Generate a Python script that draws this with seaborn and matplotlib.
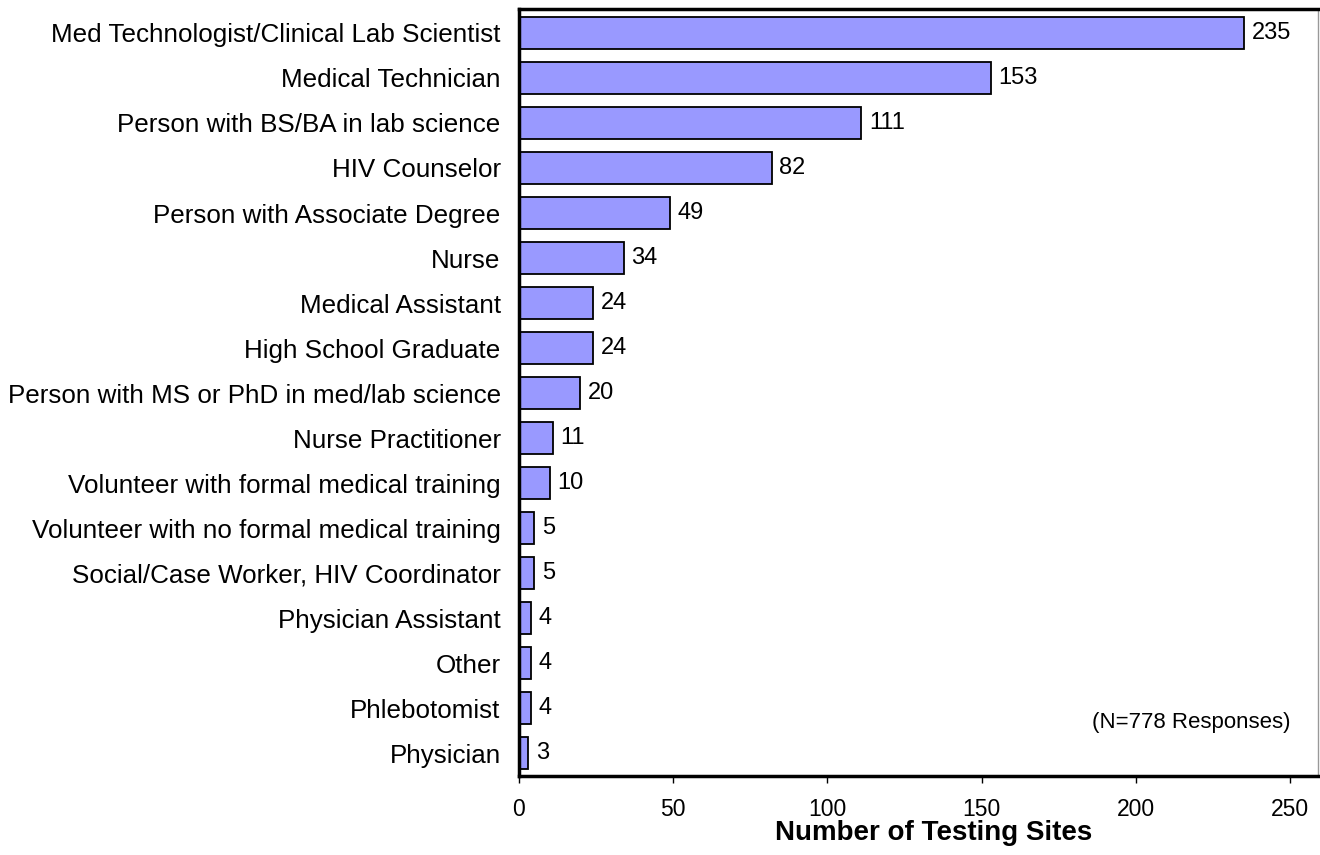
import matplotlib
matplotlib.use("Agg")
import matplotlib.pyplot as plt
import seaborn as sns
import pandas as pd

roles = [
    "Med Technologist/Clinical Lab Scientist",
    "Medical Technician",
    "Person with BS/BA in lab science",
    "HIV Counselor",
    "Person with Associate Degree",
    "Nurse",
    "Medical Assistant",
    "High School Graduate",
    "Person with MS or PhD in med/lab science",
    "Nurse Practitioner",
    "Volunteer with formal medical training",
    "Volunteer with no formal medical training",
    "Social/Case Worker, HIV Coordinator",
    "Physician Assistant",
    "Other",
    "Phlebotomist",
    "Physician",
]
sites = [235, 153, 111, 82, 49, 34, 24, 24, 20, 11, 10, 5, 5, 4, 4, 4, 3]
x_ticks = [0, 50, 100, 150, 200, 250]

df = pd.DataFrame({"role": roles, "sites": sites})

sns.set_style("white")
plt.rcParams["font.family"] = ["Liberation Sans", "DejaVu Sans"]
plt.rcParams["text.color"] = "black"
plt.rcParams["axes.labelcolor"] = "black"
plt.rcParams["xtick.color"] = "black"
plt.rcParams["ytick.color"] = "black"

fig = plt.figure(figsize=(13.2, 8.55), dpi=100)
ax = fig.add_axes([0.393, 0.0924, 0.6055, 0.8971])

sns.barplot(data=df, y="role", x="sites", orient="h", color="#9999FF",
            saturation=1, edgecolor="black", linewidth=1.3, width=0.71, ax=ax)
ax.bar_label(ax.containers[0], padding=5.5, fontsize=17, color="black")

ax.set_xlim(0, 259)
ax.set_ylim(len(roles) - 0.5, -0.53)
ax.set_xticks(x_ticks)
ax.set_ylabel("")
ax.set_xlabel("Number of Testing Sites", fontsize=20, fontweight="bold")
ax.xaxis.set_label_coords(0.519, -0.058)
ax.tick_params(axis="y", length=0, pad=13, labelsize=18.7)
ax.tick_params(axis="x", length=5, width=1, direction="out", pad=11,
               labelsize=16.5, bottom=True)

for side in ["left", "bottom", "top"]:
    ax.spines[side].set_color("black")
    ax.spines[side].set_linewidth(2.5)
ax.spines["right"].set_color("#999999")
ax.spines["right"].set_linewidth(1)

ax.text(0.966, 0.07, "(N=778 Responses)", transform=ax.transAxes,
        ha="right", va="center", fontsize=16)

fig.savefig("out.png", dpi=100)
